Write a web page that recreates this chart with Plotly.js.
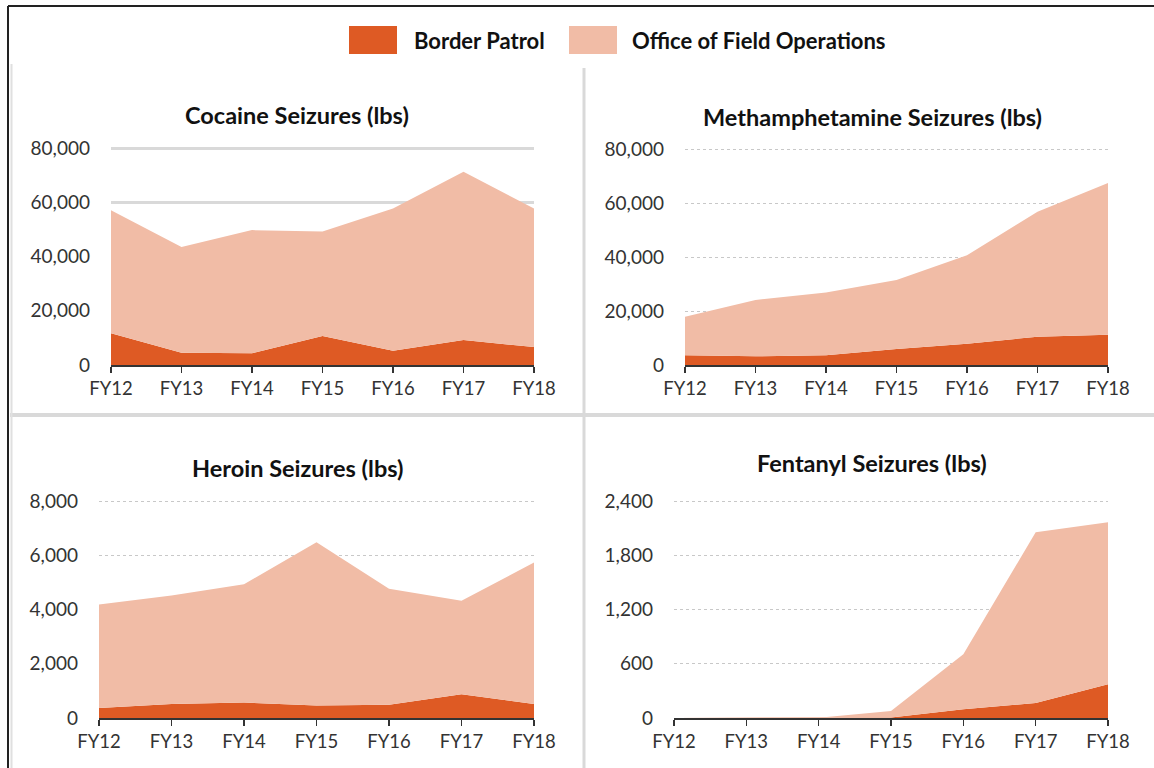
<!DOCTYPE html>
<html>
<head>
<meta charset="utf-8">
<script src="https://cdn.plot.ly/plotly-3.0.1.min.js"></script>
<style>html,body{margin:0;padding:0;background:#fff}#chart{width:1154px;height:768px}</style>
</head>
<body>
<div id="chart"></div>
<script>
// ---- Data (lbs) ----
const years = ["FY12", "FY13", "FY14", "FY15", "FY16", "FY17", "FY18"];

const cocaineBP  = [11700, 4500, 4300, 10700, 5300, 9200, 6600];
const cocaineOFO = [45400, 39100, 45500, 38600, 52500, 62100, 51200];

const methBP  = [3600, 3200, 3600, 5900, 7900, 10500, 11200];
const methOFO = [14300, 20900, 23300, 25600, 32800, 46300, 56300];

const heroinBP  = [370, 520, 570, 460, 490, 880, 520];
const heroinOFO = [3820, 4000, 4370, 6030, 4280, 3450, 5220];

const fentanylBP  = [0, 0, 0, 5, 96, 167, 374];
const fentanylOFO = [0, 0, 2, 73, 611, 1889, 1793];

const seriesNames = ["Border Patrol", "Office of Field Operations"];
const panelTitles = ["Cocaine Seizures (lbs)", "Methamphetamine Seizures (lbs)", "Heroin Seizures (lbs)", "Fentanyl Seizures (lbs)"];
const yTicks = {
  cocaine: [0, 20000, 40000, 60000, 80000],
  meth: [0, 20000, 40000, 60000, 80000],
  heroin: [0, 2000, 4000, 6000, 8000],
  fentanyl: [0, 600, 1200, 1800, 2400]
};

// ---- Styling ----
const W = 1154, H = 768;
const colBP = "#DE5A24";
const colOFO = "#F1BCA6";
const FONT = "Lato, 'Open Sans', sans-serif";
const px = v => v / W;
const py = v => 1 - v / H;
const PAD = 1.006; // headroom so the top grid line is drawn

const panels = [
  {bp: cocaineBP, ofo: cocaineOFO, ticks: yTicks.cocaine, x: [111, 534], y: [365, 147], grid: "solid", title: panelTitles[0], tx: 297, ty: 115},
  {bp: methBP, ofo: methOFO, ticks: yTicks.meth, x: [685, 1108], y: [365, 148], grid: "dot", title: panelTitles[1], tx: 873, ty: 117},
  {bp: heroinBP, ofo: heroinOFO, ticks: yTicks.heroin, x: [99, 534], y: [718, 500], grid: "dot", title: panelTitles[2], tx: 297, ty: 468},
  {bp: fentanylBP, ofo: fentanylOFO, ticks: yTicks.fentanyl, x: [674, 1108], y: [718, 500], grid: "dot", title: panelTitles[3], tx: 872, ty: 463}
];

const data = [];
const layout = {
  width: W, height: H,
  margin: {l: 0, r: 0, t: 0, b: 0},
  paper_bgcolor: "#fff", plot_bgcolor: "rgba(0,0,0,0)",
  showlegend: false,
  font: {family: FONT, size: 19, color: "#333"},
  shapes: [], annotations: []
};

panels.forEach((p, i) => {
  const n = i + 1;
  const xa = "x" + (n === 1 ? "" : n), ya = "y" + (n === 1 ? "" : n);
  const xk = "xaxis" + (n === 1 ? "" : n), yk = "yaxis" + (n === 1 ? "" : n);
  data.push({x: years, y: p.bp, xaxis: xa, yaxis: ya, type: "scatter", mode: "lines",
    stackgroup: "s" + n, line: {width: 0, color: colBP}, fillcolor: colBP, name: seriesNames[0], hoverinfo: "x+y+name"});
  data.push({x: years, y: p.ofo, xaxis: xa, yaxis: ya, type: "scatter", mode: "lines",
    stackgroup: "s" + n, line: {width: 0, color: colOFO}, fillcolor: colOFO, name: seriesNames[1], hoverinfo: "x+y+name"});
  layout[xk] = {
    domain: [px(p.x[0]), px(p.x[1])], anchor: ya, type: "category",
    range: [0, years.length - 1], showgrid: false, zeroline: false,
    showline: true, linecolor: "#333", linewidth: 1.5,
    ticks: "outside", ticklen: 6, tickcolor: "#333", tickwidth: 1.2, ticklabelstandoff: 0,
    tickfont: {family: FONT, size: 18.5, color: "#333"}, fixedrange: true
  };
  layout[yk] = {
    domain: [py(p.y[0]), py(p.y[1])], anchor: xa,
    range: [0, p.ticks[p.ticks.length - 1] * PAD], tickvals: p.ticks, tickformat: ",",
    showgrid: true, gridcolor: p.grid === "solid" ? "#d9d9d9" : "#c8c8c8",
    gridwidth: p.grid === "solid" ? 2.5 : 1, griddash: p.grid,
    zeroline: false, showline: false, ticks: "", ticklabelstandoff: 20,
    tickfont: {family: FONT, size: 19, color: "#333"}, fixedrange: true
  };
  layout.annotations.push({xref: "paper", yref: "paper", x: px(p.tx), y: py(p.ty),
    text: "<b>" + p.title + "</b>", showarrow: false, xanchor: "center", yanchor: "middle",
    font: {family: FONT, size: 23.5, color: "#111"}});
});

// frame and dividers
const sh = layout.shapes;
sh.push({type: "line", xref: "paper", yref: "paper", x0: px(584), x1: px(584), y0: py(68), y1: py(768), line: {color: "#d9d9d9", width: 3}});
sh.push({type: "line", xref: "paper", yref: "paper", x0: px(10), x1: px(1154), y0: py(415), y1: py(415), line: {color: "#d9d9d9", width: 4}});
sh.push({type: "line", xref: "paper", yref: "paper", x0: px(11.5), x1: px(11.5), y0: py(64), y1: py(768), line: {color: "#e0e0e0", width: 2}});
sh.push({type: "line", xref: "paper", yref: "paper", x0: px(8), x1: px(8), y0: py(6), y1: py(768), line: {color: "#222", width: 2}});
sh.push({type: "line", xref: "paper", yref: "paper", x0: px(8), x1: px(1154), y0: py(6), y1: py(6), line: {color: "#222", width: 2}});

// legend
sh.push({type: "rect", xref: "paper", yref: "paper", x0: px(349), x1: px(397), y0: py(54), y1: py(26), fillcolor: colBP, line: {width: 0}});
sh.push({type: "rect", xref: "paper", yref: "paper", x0: px(569), x1: px(617), y0: py(54), y1: py(26), fillcolor: colOFO, line: {width: 0}});
layout.annotations.push({xref: "paper", yref: "paper", x: px(412), y: py(40), text: "<b>" + seriesNames[0] + "</b>",
  showarrow: false, xanchor: "left", yanchor: "middle", font: {family: FONT, size: 22, color: "#111"}});
layout.annotations.push({xref: "paper", yref: "paper", x: px(630), y: py(40), text: "<b>" + seriesNames[1] + "</b>",
  showarrow: false, xanchor: "left", yanchor: "middle", font: {family: FONT, size: 22, color: "#111"}});

Plotly.newPlot("chart", data, layout, {displayModeBar: false, staticPlot: true});
</script>
</body>
</html>
